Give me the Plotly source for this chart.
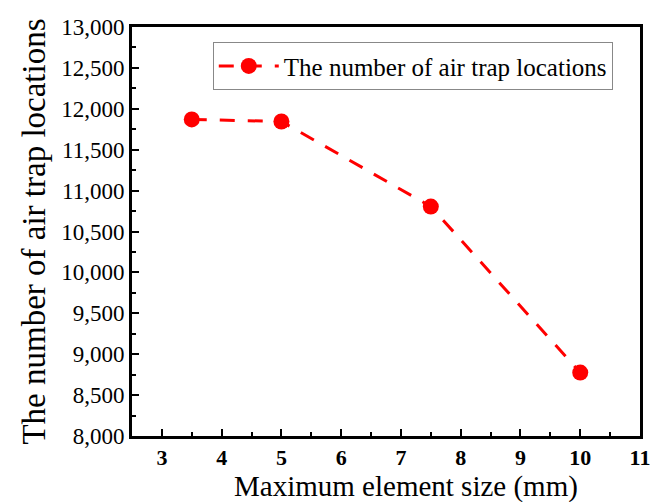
import plotly.graph_objects as go

x_vals = [3.5, 5, 7.5, 10]
y_vals = [11870, 11845, 10805, 8775]
series_name = "The number of air trap locations"
x_title = "Maximum element size (mm)"
y_title = "The number of air trap locations"
x_ticks = [3, 4, 5, 6, 7, 8, 9, 10, 11]
y_ticks = list(range(8000, 13001, 500))

fig = go.Figure()
fig.add_trace(go.Scatter(
    x=x_vals, y=y_vals, mode="lines+markers", name=series_name,
    line=dict(color="#ff0000", width=3, dash="15px,13px"),
    marker=dict(color="#ff0000", size=16, symbol="circle"),
))

font_family = "Liberation Serif, DejaVu Serif, serif"
fig.update_layout(
    width=654, height=502,
    margin=dict(l=132, r=14, t=27, b=66),
    paper_bgcolor="white", plot_bgcolor="white",
    font=dict(family=font_family, color="black"),
    showlegend=True,
    legend=dict(x=0.159, y=0.963, xanchor="left", yanchor="top",
                bordercolor="#888888", borderwidth=1, bgcolor="white",
                itemwidth=60,
                font=dict(size=25, family=font_family)),
    xaxis=dict(
        range=[2.5, 11], tickvals=x_ticks, ticks="inside", ticklen=7, tickwidth=2,
        tickcolor="black", showline=True, linecolor="black", linewidth=3, mirror=True,
        showgrid=False, zeroline=False, automargin=False,
        tickfont=dict(size=22, family=font_family, weight="bold"),
        minor=dict(dtick=0.5, ticks="inside", ticklen=4, tickwidth=2, tickcolor="black"),
    ),
    yaxis=dict(
        range=[8000, 13000], tickvals=y_ticks, tickformat=",", ticks="inside", ticklen=7, tickwidth=2,
        tickcolor="black", showline=True, linecolor="black", linewidth=3, mirror=True,
        showgrid=False, zeroline=False, automargin=False,
        tickfont=dict(size=23, family=font_family),
        minor=dict(dtick=250, ticks="inside", ticklen=4, tickwidth=2, tickcolor="black"),
        title=dict(text=y_title, font=dict(size=33, family=font_family), standoff=6),
    ),
    annotations=[dict(
        text=x_title, xref="paper", yref="paper", x=0.54, y=0, yshift=-50,
        xanchor="center", yanchor="middle", showarrow=False,
        font=dict(size=29, family=font_family, color="black"),
    )],
)

fig.write_html("out.html")
